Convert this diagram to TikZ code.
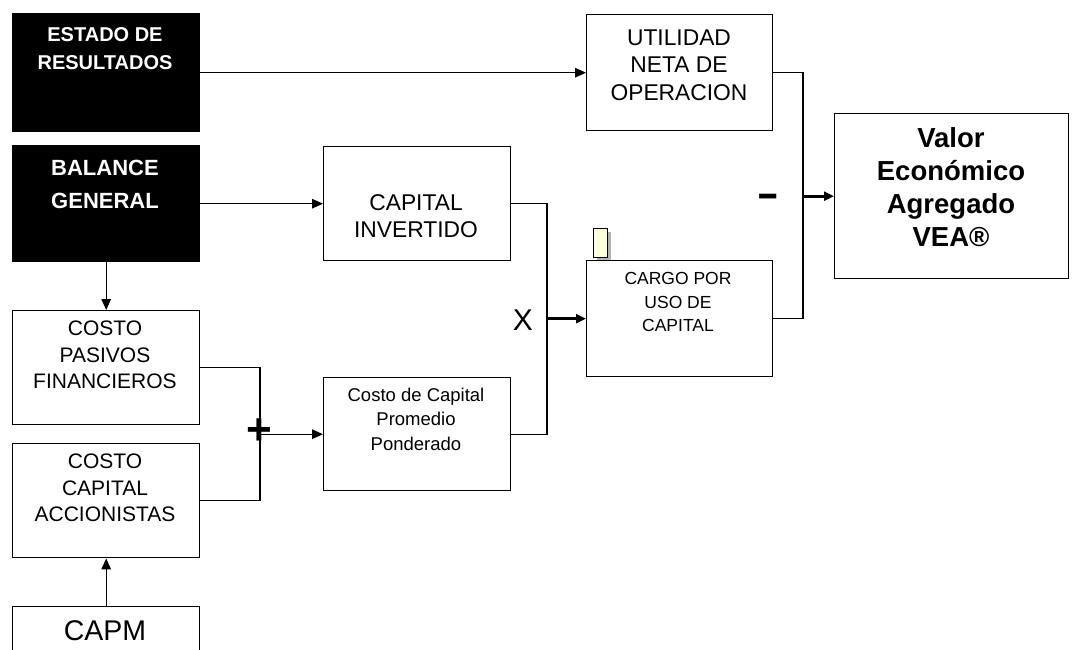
\documentclass[tikz,border=0pt]{standalone}
\usepackage{fontspec}
\setmainfont{Liberation Sans}
\usetikzlibrary{arrows.meta}
\definecolor{noteyellow}{RGB}{255,255,221}
\tikzset{
  box/.style={draw=black, line width=1.4pt, anchor=north west, inner sep=0pt},
  darkbox/.style={box, fill=black},
  conn/.style={draw=black, line width=1.4pt},
  arr/.style={conn, -{Triangle[length=11pt,width=9.5pt]}},
  thickarr/.style={draw=black, line width=2.6pt, -{Triangle[length=10pt,width=9pt]}},
  txt/.style={align=center, inner sep=0pt, text=black},
}
\begin{document}
\begin{tikzpicture}[x=1pt,y=-1pt]
\useasboundingbox (0,0) rectangle (1072,649);
% boxes
\node[darkbox, minimum width=187pt, minimum height=118pt] (er) at (12,13) {};
\node[darkbox, minimum width=187pt, minimum height=116pt] (bg) at (12,145) {};
\node[box, minimum width=186pt, minimum height=116pt] (un) at (586,14) {};
\node[box, minimum width=187pt, minimum height=114pt] (ci) at (323,146) {};
\node[box, minimum width=186pt, minimum height=116pt] (cu) at (586,260) {};
\node[box, minimum width=234pt, minimum height=165pt] (vea) at (834,113) {};
\node[box, minimum width=187pt, minimum height=114pt] (cp) at (12,310) {};
\node[box, minimum width=187pt, minimum height=114pt] (cc) at (12,443) {};
\node[box, minimum width=187pt, minimum height=113pt] (ccpp) at (323,377) {};
\node[box, minimum width=187pt, minimum height=100pt] (capm) at (12,606) {};
% note marker
\fill[black!30] (597,232) rectangle (611,260);
\node[draw=black, line width=1.2pt, fill=noteyellow, anchor=north west, inner sep=0pt, minimum width=14pt, minimum height=29pt] (note) at (593,228) {};
% texts
\node[txt, text=white, font=\bfseries\fontsize{20}{28}\selectfont] (ert) at (105,49) {ESTADO DE\\RESULTADOS};
\node[txt, text=white, font=\bfseries\fontsize{22}{33}\selectfont] (bgt) at (105,184) {BALANCE\\GENERAL};
\node[txt, font=\fontsize{22.8}{27.5}\selectfont] (unt) at (679,65) {UTILIDAD\\NETA DE\\OPERACION};
\node[txt, font=\fontsize{22.8}{27}\selectfont] (cit) at (416,216) {CAPITAL\\INVERTIDO};
\node[txt, font=\fontsize{17.5}{23.5}\selectfont] (cut) at (678,302) {CARGO POR\\USO DE\\CAPITAL};
\node[txt, font=\bfseries\fontsize{27.5}{33}\selectfont] (veat) at (951,187) {Valor\\Económico\\Agregado\\VEA®};
\node[txt, font=\fontsize{21}{26.5}\selectfont] (cpt) at (105,355) {COSTO\\PASIVOS\\FINANCIEROS};
\node[txt, font=\fontsize{21}{26.5}\selectfont] (cct) at (105,488) {COSTO\\CAPITAL\\ACCIONISTAS};
\node[txt, font=\fontsize{18.5}{24.5}\selectfont] (ccppt) at (416,419) {Costo de Capital\\Promedio\\Ponderado};
\node[txt, font=\fontsize{28.5}{30}\selectfont] (capmt) at (105,631) {CAPM};
% operator labels
\node[txt, font=\fontsize{30}{30}\selectfont] (xop) at (523,320) {X};
\node[txt, font=\bfseries\fontsize{44}{44}\selectfont] (plusop) at (259,432) {+};
\node[txt, font=\fontsize{60}{60}\selectfont] (minusop) at (768,203) {\scalebox{1.17}[1]{-}};
% junction coordinates
\path (cu.west) ++(-39,0) coordinate (jx);
\path (ccpp.west) ++(-63,0) coordinate (jp);
\path (vea.west) ++(-31,0) coordinate (jm);
% connectors
\draw[arr] (er.east) -- (un.west);
\draw[arr] (bg.east) -- (ci.west);
\draw[conn] (ci.east) -| (jx);
\draw[conn] (ccpp.east) -| (jx);
\draw[thickarr] (jx) -- (cu.west);
\draw[conn] (cp.east) -| (jp);
\draw[conn] (cc.east) -| (jp);
\draw[arr] (jp) -- (ccpp.west);
\draw[conn] (un.east) -| (jm);
\draw[conn] (cu.east) -| (jm);
\draw[thickarr] (jm) -- (vea.west);
\draw[arr] (bg.south) -- (cp.north);
\draw[arr] (capm.north) -- (cc.south);
\end{tikzpicture}
\end{document}
